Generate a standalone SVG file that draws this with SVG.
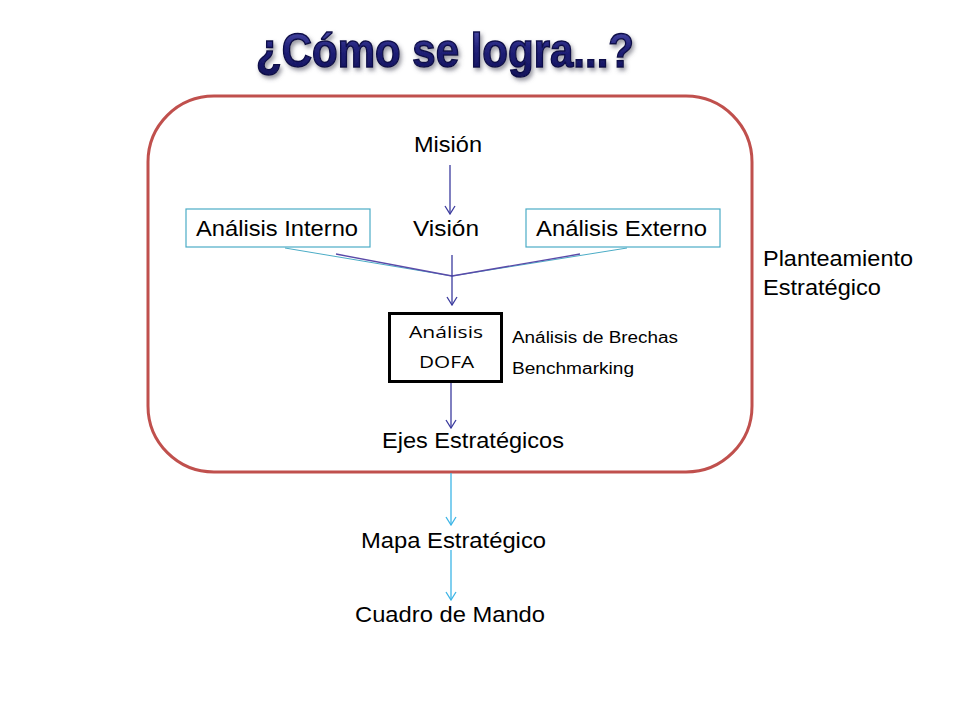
<svg xmlns="http://www.w3.org/2000/svg" width="960" height="720" viewBox="0 0 960 720">
<style>
.t{font-family:"Liberation Sans",Arial,sans-serif;font-size:22px;fill:#000}
.s{font-family:"Liberation Sans",Arial,sans-serif;font-size:16px;fill:#000}
.c{font-family:"Open Sans","Noto Sans",sans-serif;font-size:16px;fill:#000}
.box{fill:#fff;stroke:#4BACC6;stroke-width:1.2}
.blue{stroke:#3B3B9E;stroke-width:1.3;fill:none}
.cyan{stroke:#3DB5E6;stroke-width:1.3;fill:none}
</style>
<defs>
<marker id="ab" viewBox="0 0 12 12" refX="11" refY="6" markerWidth="12" markerHeight="12" markerUnits="userSpaceOnUse" orient="auto">
<polyline points="3,1 11,6 3,11" fill="none" stroke="#3B3B9E" stroke-width="1.3"/>
</marker>
<marker id="ac" viewBox="0 0 12 12" refX="11" refY="6" markerWidth="12" markerHeight="12" markerUnits="userSpaceOnUse" orient="auto">
<polyline points="3,1 11,6 3,11" fill="none" stroke="#3DB5E6" stroke-width="1.3"/>
</marker>
<linearGradient id="tg" x1="0" y1="0" x2="0" y2="1">
<stop offset="0" stop-color="#5656B4"/>
<stop offset="0.45" stop-color="#22227A"/>
<stop offset="1" stop-color="#12125A"/>
</linearGradient>
<filter id="sh" x="-10%" y="-30%" width="120%" height="160%">
<feDropShadow dx="2" dy="3" stdDeviation="2" flood-color="#555566" flood-opacity="0.6"/>
</filter>
</defs>
<rect width="960" height="720" fill="#fff"/>
<g id="title">
<text x="445" y="67" text-anchor="middle" font-family="'Liberation Sans',Arial,sans-serif" font-weight="bold" font-size="48" fill="url(#tg)" stroke="#10104a" stroke-width="1.5" filter="url(#sh)" textLength="378" lengthAdjust="spacingAndGlyphs">¿Cómo se logra...?</text>
</g>
<g id="frame">
<rect x="148" y="96" width="604" height="376" rx="66" ry="66" fill="none" stroke="#C0504D" stroke-width="3"/>
</g>
<g id="connectors">
<line class="blue" x1="450" y1="165" x2="450" y2="214" marker-end="url(#ab)"/>
<line x1="285" y1="248" x2="452" y2="276" stroke="#4BACC6" stroke-width="1"/>
<line x1="336" y1="254" x2="452" y2="276" stroke="#5A4AA8" stroke-width="1.3"/>
<line x1="627" y1="248" x2="452" y2="276" stroke="#4BACC6" stroke-width="1"/>
<line x1="580" y1="254" x2="452" y2="276" stroke="#5A4AA8" stroke-width="1.3"/>
<line class="blue" x1="452" y1="255" x2="452" y2="305" marker-end="url(#ab)"/>
<line class="blue" x1="451" y1="383" x2="451" y2="428" marker-end="url(#ab)"/>
<line class="cyan" x1="451" y1="473" x2="451" y2="525" marker-end="url(#ac)"/>
<line class="cyan" x1="451" y1="550" x2="451" y2="600" marker-end="url(#ac)"/>
</g>
<g id="mision"><text class="t" x="414" y="152" textLength="68" lengthAdjust="spacingAndGlyphs">Misión</text></g>
<g id="vision"><text class="t" x="413" y="236" textLength="66" lengthAdjust="spacingAndGlyphs">Visión</text></g>
<g id="interno">
<rect class="box" x="186" y="209" width="184" height="38"/>
<text class="t" x="196" y="236" textLength="162" lengthAdjust="spacingAndGlyphs">Análisis Interno</text>
</g>
<g id="externo">
<rect class="box" x="526" y="209" width="194" height="38"/>
<text class="t" x="536" y="236" textLength="171" lengthAdjust="spacingAndGlyphs">Análisis Externo</text>
</g>
<g id="planteamiento">
<text class="t" x="763" y="266" textLength="150" lengthAdjust="spacingAndGlyphs">Planteamiento</text>
<text class="t" x="763" y="295" textLength="118" lengthAdjust="spacingAndGlyphs">Estratégico</text>
</g>
<g id="dofa">
<rect x="389.5" y="313.5" width="112" height="68" fill="#fff" stroke="#000" stroke-width="3"/>
<text class="c" x="409" y="338" textLength="74" lengthAdjust="spacingAndGlyphs">Análisis</text>
<text class="c" x="419" y="368" textLength="55" lengthAdjust="spacingAndGlyphs">DOFA</text>
</g>
<g id="brechas">
<text class="s" x="512" y="343" textLength="166" lengthAdjust="spacingAndGlyphs">Análisis de Brechas</text>
<text class="s" x="512" y="374" textLength="122" lengthAdjust="spacingAndGlyphs">Benchmarking</text>
</g>
<g id="ejes"><text class="t" x="382" y="448" textLength="182" lengthAdjust="spacingAndGlyphs">Ejes Estratégicos</text></g>
<g id="mapa"><text class="t" x="361" y="548" textLength="185" lengthAdjust="spacingAndGlyphs">Mapa Estratégico</text></g>
<g id="cuadro"><text class="t" x="355" y="622" textLength="190" lengthAdjust="spacingAndGlyphs">Cuadro de Mando</text></g>
</svg>
